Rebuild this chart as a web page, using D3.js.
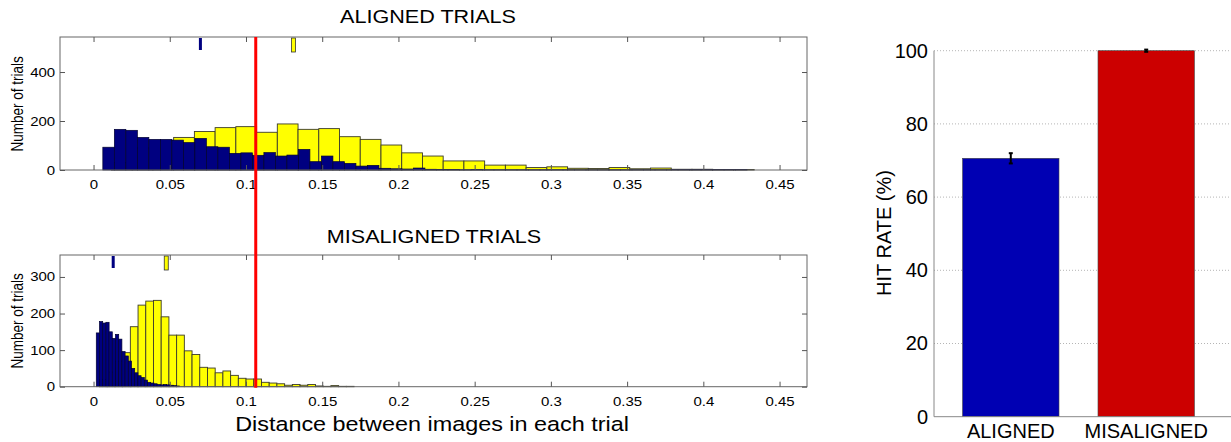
<!DOCTYPE html>
<html>
<head>
<meta charset="utf-8">
<script src="https://cdn.jsdelivr.net/npm/d3@7"></script>
<style>
  body { margin: 0; background: #fff; }
  svg { display: block; font-family: "Liberation Sans", Arial, sans-serif; }
</style>
</head>
<body>
<script>
// ---- data ----
const distTicks = [0, 0.05, 0.1, 0.15, 0.2, 0.25, 0.3, 0.35, 0.4, 0.45];
const alignedTicks = [0, 200, 400];
const misalignedTicks = [0, 100, 200, 300];
const hitTicks = [0, 20, 40, 60, 80, 100];

// aligned trials histogram (bin start, bin width, counts)
const alignedBlueStart = 0.0061;
const alignedBlueWidth = 0.007546;
const alignedBlueCounts = [93, 166, 162, 133, 125, 125, 122, 112, 129, 95, 93, 68, 70,
  60, 71, 57, 61, 84, 34, 57, 34, 27, 16, 19, 7, 5, 4,
  8, 3, 2, 2, 1, 2, 1, 1, 1, 1, 1, 1, 1, 1, 1, 1, 1, 1, 1, 1, 1, 1, 1, 1, 1, 1, 1, 1, 1];
const alignedYellowStart = 0.01175;
const alignedYellowWidth = 0.0136;
const alignedYellowCounts = [30, 90, 120, 133, 157, 173, 177, 154, 188, 166, 169, 136, 125, 102,
  70, 57, 37, 37, 20, 20, 10, 13, 7, 6, 10, 5, 8, 3, 3, 2, 2];

// misaligned trials histogram
const misBlueStart = 0.0018;
const misBlueWidth = 0.0021;
const misBlueCounts = [147, 178, 174, 176, 150, 132, 143, 130, 96, 84, 70, 50, 38, 30, 25, 18,
  12, 10, 8, 6, 5, 6, 5, 4, 3, 2];
const misYellowStart = 0.0039;
const misYellowWidth = 0.00506;
const misYellowCounts = [20, 40, 70, 93, 164, 223, 234, 236, 191, 141, 141, 98, 88, 53, 51, 38,
  43, 31, 23, 21, 21, 12, 10, 8, 4, 6, 4, 6, 2, 1, 3, 1, 1];

// mean markers [blue, yellow] and decision criterion
const alignedMeans = [0.0701, 0.1312];
const misalignedMeans = [0.0129, 0.0477];
const criterion = 0.1064;

// hit rate bars
const conditions = ['ALIGNED', 'MISALIGNED'];
const hitRate = [70.6, 100];
const hitErr = [1.4, 0.3];

// ---- drawing ----
const width = 1231;
const height = 442;
const stretch = 1.2;

const svg = d3.select('body')
  .append('svg')
  .attr('width', width)
  .attr('height', height);

const x = d3.scaleLinear()
  .domain([-0.022, 0.468])
  .range([60, 807]);

function bins(start, w, counts) {
  return counts.map((n, i) => ({ x0: start + i * w, x1: start + (i + 1) * w, n: n }));
}

function label(txt, cx, cy, size, rotate) {
  svg.append('text')
    .attr('transform', 'translate(' + cx + ',' + cy + ') scale(' + stretch + ',1)' + (rotate ? ' rotate(-90)' : ''))
    .attr('text-anchor', 'middle')
    .attr('font-size', size)
    .attr('fill', '#000')
    .text(txt);
}

function histPanel(top, bottom, yMax, yTicks, yellow, blue, means) {
  const y = d3.scaleLinear().domain([0, yMax]).range([bottom, top]);
  const g = svg.append('g');

  g.selectAll('rect.yel')
    .data(yellow)
    .enter()
    .append('rect')
    .attr('class', 'yel')
    .attr('x', d => x(d.x0))
    .attr('width', d => x(d.x1) - x(d.x0))
    .attr('y', d => y(d.n))
    .attr('height', d => y(0) - y(d.n))
    .attr('fill', '#ffff00')
    .attr('stroke', '#3b3b2b')
    .attr('stroke-width', 0.9);

  g.selectAll('rect.blu')
    .data(blue)
    .enter()
    .append('rect')
    .attr('class', 'blu')
    .attr('x', d => x(d.x0))
    .attr('width', d => x(d.x1) - x(d.x0))
    .attr('y', d => y(d.n))
    .attr('height', d => y(0) - y(d.n))
    .attr('fill', '#000080')
    .attr('stroke', '#000030')
    .attr('stroke-width', 0.7);

  // mean markers hanging from the top edge
  g.append('rect')
    .attr('x', x(means[0]) - 1.5)
    .attr('y', top + 1)
    .attr('width', 3)
    .attr('height', 12)
    .attr('fill', '#000080');
  g.append('rect')
    .attr('x', x(means[1]) - 2)
    .attr('y', top + 1)
    .attr('width', 4)
    .attr('height', 14)
    .attr('fill', '#ffff00')
    .attr('stroke', '#333')
    .attr('stroke-width', 0.8);

  // box
  g.append('rect')
    .attr('x', x.range()[0])
    .attr('y', top)
    .attr('width', x.range()[1] - x.range()[0])
    .attr('height', bottom - top)
    .attr('fill', 'none')
    .attr('stroke', '#666')
    .attr('stroke-width', 1);

  const xAxis = d3.axisBottom(x)
    .tickValues(distTicks)
    .tickFormat(d => d)
    .tickSizeInner(-5)
    .tickSizeOuter(0)
    .tickPadding(10);
  const xTop = d3.axisTop(x)
    .tickValues(distTicks)
    .tickFormat('')
    .tickSizeInner(-5)
    .tickSizeOuter(0);
  const yAxis = d3.axisLeft(y)
    .tickValues(yTicks)
    .tickFormat(d => d)
    .tickSizeInner(-5)
    .tickSizeOuter(0)
    .tickPadding(4);
  const yRight = d3.axisRight(y)
    .tickValues(yTicks)
    .tickFormat('')
    .tickSizeInner(-5)
    .tickSizeOuter(0);

  const axes = [
    [xAxis, 'translate(0,' + bottom + ')'],
    [xTop, 'translate(0,' + top + ')'],
    [yAxis, 'translate(' + x.range()[0] + ',0)'],
    [yRight, 'translate(' + x.range()[1] + ',0)']
  ];
  axes.forEach(a => {
    const ag = g.append('g')
      .attr('transform', a[1])
      .call(a[0])
      .attr('font-size', 12.5)
      .attr('font-family', null);
    ag.select('.domain').remove();
    ag.selectAll('line').attr('stroke', '#555');
    ag.selectAll('text').attr('fill', '#000').attr('transform', 'scale(' + stretch + ',1)');
  });
  return y;
}

const yTop = histPanel(37, 170, 543, alignedTicks,
  bins(alignedYellowStart, alignedYellowWidth, alignedYellowCounts),
  bins(alignedBlueStart, alignedBlueWidth, alignedBlueCounts),
  alignedMeans);

const yBot = histPanel(255, 386.7, 360, misalignedTicks,
  bins(misYellowStart, misYellowWidth, misYellowCounts),
  bins(misBlueStart, misBlueWidth, misBlueCounts),
  misalignedMeans);

// criterion line across both panels
svg.append('line')
  .attr('x1', x(criterion))
  .attr('x2', x(criterion))
  .attr('y1', yTop(543))
  .attr('y2', yBot(0) + 1)
  .attr('stroke', '#f00')
  .attr('stroke-width', 3);

label('ALIGNED TRIALS', 428, 23, 18);
label('MISALIGNED TRIALS', 434, 243, 18);
label('Distance between images in each trial', 432, 431, 19.5);
label('Number of trials', 23, 104, 13.5, true);
label('Number of trials', 23, 321, 13.5, true);

// ---- hit rate bar chart ----
const yHit = d3.scaleLinear().domain([0, 100]).range([416.7, 50.7]);
const xCond = d3.scaleLinear().domain([0.433, 2.7]).range([934, 1241]);
const barW = 0.712;

svg.append('g')
  .selectAll('line')
  .data(hitTicks.slice(1))
  .enter()
  .append('line')
  .attr('x1', xCond(0.433))
  .attr('x2', xCond(2.7))
  .attr('y1', d => yHit(d))
  .attr('y2', d => yHit(d))
  .attr('stroke', '#b5b5b5')
  .attr('stroke-dasharray', '1,2');

svg.append('g')
  .selectAll('rect')
  .data(hitRate)
  .enter()
  .append('rect')
  .attr('x', (d, i) => xCond(i + 1 - barW / 2))
  .attr('width', xCond(barW) - xCond(0))
  .attr('y', d => yHit(d))
  .attr('height', d => yHit(0) - yHit(d))
  .attr('fill', (d, i) => i === 0 ? '#0000b3' : '#cc0000')
  .attr('stroke', '#444')
  .attr('stroke-width', 0.6);

const err = svg.append('g').attr('stroke', '#000').attr('stroke-width', 2);
hitRate.forEach((v, i) => {
  const cx = xCond(i + 1);
  err.append('line').attr('x1', cx).attr('x2', cx)
    .attr('y1', yHit(v - hitErr[i])).attr('y2', yHit(v + hitErr[i]));
  err.append('line').attr('x1', cx - 2).attr('x2', cx + 2)
    .attr('y1', yHit(v - hitErr[i])).attr('y2', yHit(v - hitErr[i]));
  err.append('line').attr('x1', cx - 2).attr('x2', cx + 2)
    .attr('y1', yHit(v + hitErr[i])).attr('y2', yHit(v + hitErr[i]));
});

// axis lines
svg.append('line')
  .attr('x1', xCond(0.433)).attr('x2', xCond(0.433))
  .attr('y1', yHit(0)).attr('y2', yHit(100))
  .attr('stroke', '#888');
svg.append('line')
  .attr('x1', xCond(0.433)).attr('x2', xCond(2.7))
  .attr('y1', yHit(0)).attr('y2', yHit(0))
  .attr('stroke', '#888');

const hitAxis = svg.append('g')
  .attr('transform', 'translate(' + xCond(0.433) + ',0)')
  .call(d3.axisLeft(yHit).tickValues(hitTicks).tickSize(0).tickPadding(6))
  .attr('font-size', 20)
  .attr('font-family', null);
hitAxis.select('.domain').remove();
hitAxis.selectAll('text').attr('fill', '#000');

svg.append('g')
  .selectAll('text')
  .data(conditions)
  .enter()
  .append('text')
  .attr('x', (d, i) => xCond(i + 1))
  .attr('y', yHit(0) + 21)
  .attr('text-anchor', 'middle')
  .attr('font-size', 20)
  .attr('fill', '#000')
  .text(d => d);

svg.append('text')
  .attr('transform', 'translate(891,233) rotate(-90)')
  .attr('text-anchor', 'middle')
  .attr('font-size', 20)
  .attr('fill', '#000')
  .text('HIT RATE (%)');
</script>
</body>
</html>
